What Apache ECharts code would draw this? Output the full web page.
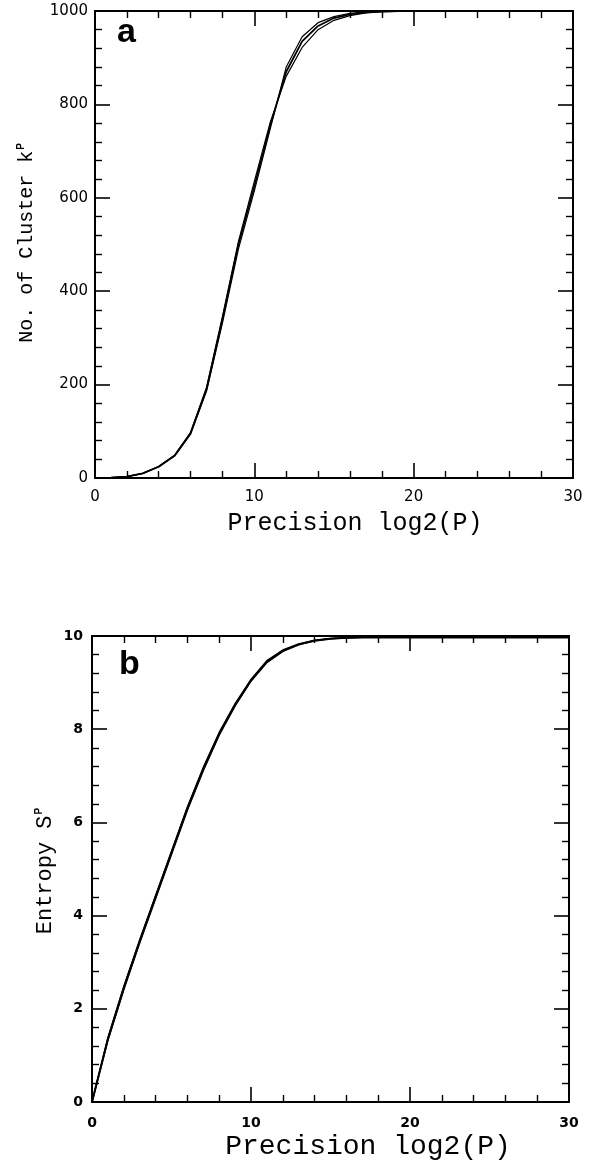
<!DOCTYPE html>
<html>
<head>
<meta charset="utf-8">
<script src="https://cdn.jsdelivr.net/npm/echarts@6/dist/echarts.min.js"></script>
<style>
html,body{margin:0;padding:0;background:#fff;}
#chart{width:597px;height:1166px;}
</style>
</head>
<body>
<div id="chart"></div>
<script>
// ---- data ----
var precision = [0,1,2,3,4,5,6,7,8,9,10,11,12,13,14,15,16,17,18,19,20,21,22,23,24,25,26,27,28,29,30];
var clustersRun1 = [0,1,3,10,24,48,96,190,340,500,625,755,870,935,968,985,993,997,999,1000,1000,1000,1000,1000,1000,1000,1000,1000,1000,1000,1000];
var clustersRun2 = [0,1,3,10,24,47,94,186,332,490,615,748,880,945,975,988,995,998,999,1000,1000,1000,1000,1000,1000,1000,1000,1000,1000,1000,1000];
var clustersRun3 = [0,1,3,10,25,49,98,194,346,506,635,762,860,922,960,980,990,996,998,999,1000,1000,1000,1000,1000,1000,1000,1000,1000,1000,1000];
var entropyRun1 = [0,1.35,2.45,3.45,4.4,5.35,6.3,7.15,7.9,8.52,9.05,9.45,9.68,9.82,9.9,9.94,9.96,9.97,9.97,9.97,9.97,9.97,9.97,9.97,9.97,9.97,9.97,9.97,9.97,9.97,9.97];
var entropyRun2 = [0,1.32,2.41,3.41,4.36,5.31,6.26,7.11,7.87,8.5,9.03,9.43,9.67,9.81,9.9,9.94,9.96,9.97,9.97,9.97,9.97,9.97,9.97,9.97,9.97,9.97,9.97,9.97,9.97,9.97,9.97];
var entropyRun3 = [0,1.38,2.48,3.48,4.43,5.38,6.33,7.18,7.93,8.55,9.07,9.47,9.7,9.83,9.91,9.95,9.96,9.97,9.97,9.97,9.97,9.97,9.97,9.97,9.97,9.97,9.97,9.97,9.97,9.97,9.97];
var xTitle = 'Precision log2(P)';

function pairs(xs, ys){ return xs.map(function(x,i){ return [x, ys[i]]; }); }

var chart = echarts.init(document.getElementById('chart'), null, {renderer:'canvas'});
var black = '#000';
var labelFont = 'DejaVu Sans';

function plain(v){ return String(v); }
function xAx(grid, pos, showLabel, fs, margin, bold){
  return {
    gridIndex: grid, type: 'value', position: pos, min: 0, max: 30, interval: 10,
    axisLine: {show: true, onZero: false, lineStyle: {color: black, width: 2}},
    axisTick: {show: true, inside: true, length: 15, lineStyle: {color: black, width: 1.6}},
    minorTick: {show: true, splitNumber: 5, length: 7, lineStyle: {color: black, width: 1.4}},
    splitLine: {show: false},
    axisLabel: {show: showLabel, color: black, fontFamily: labelFont, fontSize: fs, margin: margin, fontWeight: bold ? 'bold' : 'normal', formatter: plain}
  };
}
function yAx(grid, pos, showLabel, max, interval, fs, margin, bold){
  return {
    gridIndex: grid, type: 'value', position: pos, min: 0, max: max, interval: interval,
    axisLine: {show: true, onZero: false, lineStyle: {color: black, width: 2}},
    axisTick: {show: true, inside: true, length: 15, lineStyle: {color: black, width: 1.6}},
    minorTick: {show: true, splitNumber: 5, length: 7, lineStyle: {color: black, width: 1.4}},
    splitLine: {show: false},
    axisLabel: {show: showLabel, color: black, fontFamily: labelFont, fontSize: fs, margin: margin, fontWeight: bold ? 'bold' : 'normal', formatter: plain}
  };
}
function line(data, xi, yi, w){
  return {type: 'line', xAxisIndex: xi, yAxisIndex: yi, data: data, showSymbol: false, symbol: 'none',
    smooth: false, lineStyle: {color: black, width: w}, animation: false, z: 3};
}

var option = {
  animation: false,
  backgroundColor: '#fff',
  grid: [
    {left: 95, top: 11, width: 478, height: 467},
    {left: 92, top: 636, width: 477, height: 466}
  ],
  xAxis: [
    xAx(0, 'bottom', true, 15, 12, false),
    xAx(0, 'top', false, 15, 8, false),
    xAx(1, 'bottom', true, 14, 14, true),
    xAx(1, 'top', false, 14, 8, true)
  ],
  yAxis: [
    yAx(0, 'left', true, 1000, 200, 15, 7, false),
    yAx(0, 'right', false, 1000, 200, 15, 7, false),
    yAx(1, 'left', true, 10, 2, 14, 9, true),
    yAx(1, 'right', false, 10, 2, 14, 9, true)
  ],
  series: [
    line(pairs(precision, clustersRun1), 0, 0, 1.8),
    line(pairs(precision, clustersRun2), 0, 0, 1.2),
    line(pairs(precision, clustersRun3), 0, 0, 1.2),
    line(pairs(precision, entropyRun1), 2, 2, 2),
    line(pairs(precision, entropyRun2), 2, 2, 1.4),
    line(pairs(precision, entropyRun3), 2, 2, 1.4)
  ],
  graphic: [
    {type: 'text', left: 117, top: 16, style: {text: 'a', font: 'bold 34px "Liberation Sans", Arial, sans-serif', fill: black}},
    {type: 'text', left: 119, top: 648, style: {text: 'b', font: 'bold 34px "Liberation Sans", Arial, sans-serif', fill: black}},
    {type: 'text', x: 355, y: 523, style: {text: xTitle, font: '25px "Liberation Mono", monospace', fill: black, align: 'center', verticalAlign: 'middle'}},
    {type: 'text', x: 368, y: 1147, style: {text: xTitle, font: '28px "Liberation Mono", monospace', fill: black, align: 'center', verticalAlign: 'middle'}},
    {type: 'text', x: 27, y: 243, rotation: Math.PI / 2,
      style: {text: '{t|No. of Cluster k}{s|P}', align: 'center', verticalAlign: 'middle', fill: black,
        rich: {t: {font: '20px "Liberation Mono", monospace', fill: black}, s: {font: 'bold 10px "Liberation Sans", sans-serif', fill: black, verticalAlign: 'top', padding: [0,0,12,1]}}}},
    {type: 'text', x: 45, y: 871, rotation: Math.PI / 2,
      style: {text: '{t|Entropy S}{s|P}', align: 'center', verticalAlign: 'middle', fill: black,
        rich: {t: {font: '22px "Liberation Mono", monospace', fill: black}, s: {font: 'bold 10px "Liberation Sans", sans-serif', fill: black, verticalAlign: 'top', padding: [0,0,12,1]}}}}
  ]
};
chart.setOption(option);
</script>
</body>
</html>
